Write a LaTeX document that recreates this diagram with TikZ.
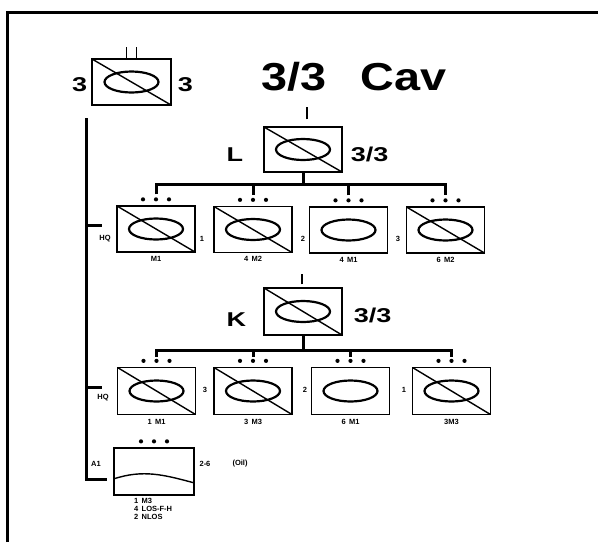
\documentclass[tikz,border=0pt]{standalone}
\usepackage{fontspec}
\setsansfont{Liberation Sans}
\usetikzlibrary{positioning,calc}

\newcommand{\wide}[1]{\scalebox{1.35}[1]{#1}}

\tikzset{
  plainbox/.style={draw, line width=1.3pt, minimum width=78pt, minimum height=46pt, inner sep=0pt},
  unitbox/.style={plainbox, path picture={
      \draw[line width=2.2pt] (path picture bounding box.center) ellipse (27pt and 10.5pt);}},
  crossbox/.style={plainbox, path picture={
      \draw[line width=2.2pt] (path picture bounding box.center) ellipse (27pt and 10.5pt);
      \draw[line width=1.4pt] (path picture bounding box.north west) -- (path picture bounding box.south east);}},
  bar/.style={line width=3pt},
  big/.style={font=\sffamily\bfseries\fontsize{20}{20}\selectfont, inner sep=0pt},
  tag/.style={font=\sffamily\bfseries\fontsize{7.5}{8}\selectfont, inner sep=0pt},
}

\begin{document}
\begin{tikzpicture}[x=1pt,y=-1pt]
  \useasboundingbox (0,0) rectangle (598,542);
  \draw[line width=3pt] (7,542) -- (7,12) -- (598,12);

  % top unit and title
  \node[crossbox, minimum width=79pt] (cav) at (131.5,82) {};
  \draw[line width=1.8pt] ([xshift=-5pt]cav.north) -- ++(0,-11);
  \draw[line width=1.8pt] ([xshift=5pt]cav.north) -- ++(0,-11);
  \node[big, left=4pt of cav, yshift=-3pt] (cavl) {\wide{3}};
  \node[big, right=6pt of cav, yshift=-3pt] (cavr) {\wide{3}};
  \node[font=\sffamily\bfseries\fontsize{39}{39}\selectfont, inner sep=0pt] (title) at (354,77)
    {\scalebox{1.2}[1]{3/3\hspace{28pt}Cav}};

  % L troop
  \node[crossbox, minimum height=45pt] (l) at (303,149.5) {};
  \draw[line width=1.8pt] ([xshift=4pt,yshift=7pt]l.north) -- ++(0,-12);
  \node[big, left=20pt of l, yshift=-5pt] (lname) {\wide{L}};
  \node[big, right=8pt of l, yshift=-5pt] (lfrac) {\wide{3/3}};
  \node[crossbox] (l1) at (156,229) {};
  \node[crossbox] (l2) at (253,229.5) {};
  \node[unitbox] (l3) at (348.5,230) {};
  \node[crossbox] (l4) at (445.5,230) {};
  \coordinate (lbar) at (0,184);
  \draw[bar] (l.south) -- (l.south |- lbar);
  \draw[bar] ([yshift=11pt]l1.north) -- (l1.north |- lbar) -- (l4.north |- lbar) -- ([yshift=11pt]l4.north);
  \foreach \n in {l2,l3} \draw[bar] ([yshift=11pt]\n.north) -- (\n.north |- lbar);
  \node[tag] (hq1) at (105,239) {HQ};
  \node[tag] (n11) at (202,239) {1};
  \node[tag] (n12) at (303,239) {2};
  \node[tag] (n13) at (398,239) {3};
  \node[tag, below=3pt of l1] (m11) {M1};
  \node[tag, below=3pt of l2] (m12) {4\, M2};
  \node[tag, below=3pt of l3] (m13) {4\, M1};
  \node[tag, below=3pt of l4] (m14) {6\, M2};

  % K troop
  \node[crossbox, minimum height=47pt] (k) at (303,311.5) {};
  \draw[line width=1.8pt] ([xshift=-1pt,yshift=3pt]k.north) -- ++(0,-10);
  \node[big, left=17pt of k, yshift=-8pt] (kname) {\wide{K}};
  \node[big, right=11pt of k, yshift=-3.5pt] (kfrac) {\wide{3/3}};
  \node[crossbox, minimum height=47pt] (k1) at (156.5,391) {};
  \node[crossbox, minimum height=47pt] (k2) at (253,391) {};
  \node[unitbox, minimum height=47pt] (k3) at (350.5,391) {};
  \node[crossbox, minimum height=47pt] (k4) at (451.5,391) {};
  \coordinate (kbar) at (0,350);
  \draw[bar] (k.south) -- (k.south |- kbar);
  \draw[bar] ([yshift=10pt]k1.north) -- (k1.north |- kbar) -- (k4.north |- kbar) -- ([yshift=10pt]k4.north);
  \foreach \n in {k2,k3} \draw[bar] ([yshift=10pt]\n.north) -- (\n.north |- kbar);
  \node[tag] (hq2) at (103,398) {HQ};
  \node[tag] (n21) at (205,390) {3};
  \node[tag] (n22) at (305,390) {2};
  \node[tag] (n23) at (404,390) {1};
  \node[tag, below=4pt of k1] (m21) {1\, M1};
  \node[tag, below=4pt of k2] (m22) {3\, M3};
  \node[tag, below=4pt of k3] (m23) {6\, M1};
  \node[tag, below=4pt of k4] (m24) {3M3};

  % A1 element
  \node[plainbox, minimum width=80pt, minimum height=47pt] (a1) at (154,471.5) {};
  \draw[line width=1.4pt] ([yshift=-7.5pt]a1.west) .. controls +(30,-10) and +(-30,-8) .. ([yshift=-11.5pt]a1.east);
  \node[tag] (a1l) at (96,464) {A1};
  \node[tag] (a1r) at (205,464) {2-6};
  \node[tag] (oil) at (240,464) {(Oil)};
  \node[tag, align=left, anchor=north west] (a1txt) at (134,498) {1\, M3\\4\, LOS-F-H\\2\, NLOS};

  % dots over each element
  \foreach \n in {l1,l2,l3,l4,k1,k2,k3,k4,a1}
    \foreach \d in {-13,0,13}
      \fill ([xshift=\d pt,yshift=6pt]\n.north) circle (2.1pt);

  % spine
  \coordinate (spine) at (86,118);
  \draw[bar] (spine) |- ([xshift=-6pt,yshift=-7.5pt]a1.west);
  \draw[bar] ([yshift=4pt]l1.west -| spine) -- ++(16,0);
  \draw[bar] ([yshift=4pt]k1.west -| spine) -- ++(16,0);
\end{tikzpicture}
\end{document}
